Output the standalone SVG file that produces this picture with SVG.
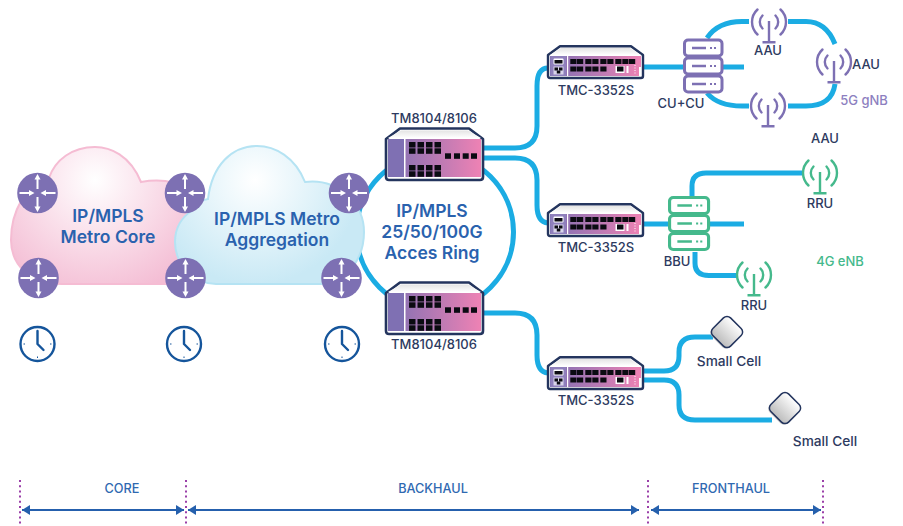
<svg xmlns="http://www.w3.org/2000/svg" xmlns:xlink="http://www.w3.org/1999/xlink" width="903" height="526" viewBox="0 0 903 526">
<style>
text{font-family:"Inter","Noto Sans","Liberation Sans",sans-serif;text-anchor:middle}
.h{font-size:17.500px;font-weight:600;fill:#2a62ae}
.l{font-size:13px;font-weight:500;fill:#2d3a60}
.s{font-size:13.700px}
.z{font-size:12.700px;font-weight:500;fill:#2f69b1}
.w{fill:none;stroke:#1bace3;stroke-width:5}
.p{color:#7d70b3}.g{color:#45b98c}
.dot{stroke:#9a3fa8;stroke-width:2;stroke-dasharray:2 3.2}
.arr{stroke:#2560ad;stroke-width:2;marker-start:url(#ah);marker-end:url(#ah)}
.k{fill:#0b0b12}
</style>
<defs>
<marker id="ah" viewBox="0 0 8 10" refX="8" refY="5" markerWidth="8" markerHeight="10" markerUnits="userSpaceOnUse" orient="auto-start-reverse"><path d="M0,0L8,5L0,10Z" fill="#2560ad"/></marker>
<radialGradient id="gp" gradientUnits="userSpaceOnUse" cx="95" cy="180" r="120"><stop offset="0" stop-color="#fff"/><stop offset="1" stop-color="#f4bdd4"/></radialGradient>
<radialGradient id="gb" gradientUnits="userSpaceOnUse" cx="255" cy="180" r="105"><stop offset="0" stop-color="#fff"/><stop offset="1" stop-color="#c9e9f5"/></radialGradient>
<linearGradient id="gf"><stop offset="0" stop-color="#7f70b3"/><stop offset="1" stop-color="#ee82b4"/></linearGradient>
<linearGradient id="gt" x1="0" y1="0" x2="0" y2="1"><stop offset="0" stop-color="#e4e4e4"/><stop offset="1" stop-color="#fff"/></linearGradient>
<linearGradient id="gc" x1="0" y1="0" x2="0" y2="1"><stop offset="0" stop-color="#fff"/><stop offset="1" stop-color="#bdbdbd"/></linearGradient>
<g id="router">
<circle r="20.300" fill="#7d70b3"/>
<path d="M0,-4V-15M0,4V15M-18,0H-7M18,0H7" stroke="#fff" stroke-width="2"/>
<path d="M0,-19L-3,-13.500H3ZM0,19L-3,13.500H3ZM-3,0L-8.500,-3V3ZM3,0L8.500,-3V3Z" fill="#fff"/>
</g>
<g id="clock" fill="none" stroke="#15559b">
<circle r="17" stroke-width="2.400"/>
<path d="M0,-14V-12.500M0,14V12.500M-14,0H-12.500M14,0H12.500" stroke-width="1"/>
<path d="M0,-13V0L6,6" stroke-width="2.400" stroke-linecap="round" stroke-linejoin="round"/>
</g>
<g id="bigsw">
<path d="M1,12L15,1.500H84L98,12V50Q98,53 95,53H4Q1,53 1,50Z" fill="#fff" stroke="#24355e" stroke-width="2.600" stroke-linejoin="round"/>
<path d="M3,11L16,3.500H83L96,11Z" fill="url(#gt)"/>
<rect x="3" y="12" width="93" height="38" fill="url(#gf)"/>
<rect x="3" y="12" width="16" height="38" fill="#7f70b3"/>
<rect x="19" y="12" width="1.500" height="38" fill="#fff"/>
<g class="k">
<rect x="24" y="15" width="6.500" height="5.500"/><rect x="32.500" y="15" width="6.500" height="5.500"/><rect x="41" y="15" width="6.500" height="5.500"/><rect x="49.500" y="15" width="6.500" height="5.500"/>
<rect x="24" y="21.300" width="6.500" height="5.500"/><rect x="32.500" y="21.300" width="6.500" height="5.500"/><rect x="41" y="21.300" width="6.500" height="5.500"/><rect x="49.500" y="21.300" width="6.500" height="5.500"/>
<rect x="24" y="38" width="6.500" height="5.500"/><rect x="32.500" y="38" width="6.500" height="5.500"/><rect x="41" y="38" width="6.500" height="5.500"/><rect x="49.500" y="38" width="6.500" height="5.500"/>
<rect x="24" y="44.300" width="6.500" height="5.500"/><rect x="32.500" y="44.300" width="6.500" height="5.500"/><rect x="41" y="44.300" width="6.500" height="5.500"/><rect x="49.500" y="44.300" width="6.500" height="5.500"/>
<rect x="60" y="26.300" width="6" height="5.500"/><rect x="69" y="26.300" width="6" height="5.500"/><rect x="77.700" y="26.300" width="6" height="5.500"/><rect x="86" y="26.300" width="6" height="5.500"/>
</g>
</g>
<g id="smsw">
<path d="M1,10L13,1.200H84L96,10V31Q96,33 94,33H3Q1,33 1,31Z" fill="#fff" stroke="#24355e" stroke-width="2.400" stroke-linejoin="round"/>
<path d="M3,10L14,3H83L94,10Z" fill="url(#gt)"/>
<rect x="3" y="11" width="91" height="20" fill="url(#gf)"/>
<rect x="3.500" y="11" width="15.500" height="20" fill="#8f80bc"/>
<rect x="20" y="11" width="1.200" height="20" fill="#fff"/>
<rect x="6.500" y="13.500" width="10" height="6" rx="1" fill="#fff"/><rect x="7.500" y="15" width="8" height="3.500" class="k"/>
<rect x="6.500" y="21.500" width="10" height="8" fill="#d9d4ea"/><rect x="7.500" y="22.500" width="3.500" height="3" class="k"/><rect x="12" y="22.500" width="3.500" height="3" class="k"/><rect x="9.800" y="25.500" width="3.500" height="3" class="k"/>
<g class="k">
<rect x="23.300" y="14" width="6.200" height="5"/><rect x="30" y="14" width="6.200" height="5"/><rect x="38.300" y="14" width="6.200" height="5"/><rect x="45.300" y="14" width="6.200" height="5"/><rect x="53.300" y="14" width="6.200" height="5"/><rect x="60.300" y="14" width="6.200" height="5"/><rect x="68.300" y="14" width="6.200" height="5"/><rect x="75.300" y="14" width="6.200" height="5"/><rect x="82" y="14" width="6.200" height="5"/>
<rect x="23.300" y="21.500" width="6.200" height="5"/><rect x="30" y="21.500" width="6.200" height="5"/><rect x="38.300" y="21.500" width="6.200" height="5"/><rect x="45.300" y="21.500" width="6.200" height="5"/><rect x="53.300" y="21.500" width="6.200" height="5"/>
</g>
<rect x="68.500" y="21" width="9" height="7" fill="#fff"/><rect x="70" y="21.500" width="6.500" height="5" class="k"/>
<rect x="79.500" y="21" width="2" height="7" fill="#fff"/>
<path d="M88,20V29" stroke="#fff" stroke-width="1" stroke-dasharray="1 1.500"/>
<rect x="92" y="22" width="2" height="9" fill="#fff"/>
</g>
<g id="ant" fill="none" stroke="currentColor" stroke-width="2.400" stroke-linecap="round">
<path d="M-6.500,-6.500A9.200,9.200 0 0 0 -6.500,6.500M6.500,-6.500A9.200,9.200 0 0 1 6.500,6.500"/>
<path d="M-11.500,-12.500A17,17 0 0 0 -11.500,12.500M11.500,-12.500A17,17 0 0 1 11.500,12.500"/>
<path d="M0,-1V20M-6.500,20.300H6.500" stroke-linecap="butt"/>
</g>
<g id="srv">
<g fill="#fff" stroke="currentColor" stroke-width="3">
<rect x="1.500" y="1.500" width="37.500" height="16" rx="3.500"/>
<rect x="1.500" y="19.500" width="37.500" height="16" rx="3.500"/>
<rect x="1.500" y="37.500" width="37.500" height="16" rx="3.500"/>
</g>
<g stroke="currentColor">
<path d="M9,9.500H23M9,27.500H23M9,45.500H23" stroke-width="2.400"/>
<path d="M27,9.500h2M31,9.500h2M27,27.500h2M31,27.500h2M27,45.500h2M31,45.500h2" stroke-width="2"/>
</g>
</g>
<g id="cell">
<rect x="-12.500" y="-11" width="25" height="25" rx="5" transform="rotate(45)" fill="#b9b9b9" opacity=".8"/>
<rect x="-12.500" y="-12.500" width="25" height="25" rx="5" transform="rotate(45)" fill="url(#gc)" stroke="#24355e" stroke-width="1.500"/>
</g>
</defs>

<g id="connectors">
<circle class="w" cx="435" cy="232" r="78.500"/>
<path class="w" d="M484,148H515Q537,148 537,126V86Q537,68 548,68"/>
<path class="w" d="M484,158H515Q537,158 537,180V205Q537,222 548,223"/>
<path class="w" d="M484,313H515Q537,313 537,335V355Q537,372 548,373"/>
<path class="w" d="M643,67H744"/>
<path class="w" d="M707,38Q718,21.500 742,21.500H749M788,21.500H806Q826,21.500 835,44"/>
<path class="w" d="M707,93Q718,106 742,106H749M788,106H806Q832,106 835,84"/>
<path class="w" d="M643,224H744"/>
<path class="w" d="M692,197V186Q692,173 706,173H802"/>
<path class="w" d="M695,252V263Q695,275.500 709,275.500H737"/>
<path class="w" d="M643,371H664Q679,371 679,356V352Q679,337 695,337H713"/>
<path class="w" d="M643,380H664Q679,380 679,395V405Q679,420 695,420H772"/>
</g>

<g id="cloud-core">
<path d="M62,284H180L200,284L210,220C205,195 180,175 141,182C130,155 110,147 95,147C72,147 55,160 49,178C25,185 11,212 11,240C11,265 30,284 62,284Z" fill="url(#gp)" stroke="#f5bcd3" stroke-width="2"/>
<text class="h" x="108" y="222">IP/MPLS</text><text class="h" x="108" y="243">Metro Core</text>
</g>
<g id="cloud-aggregation">
<path d="M216,284H320C345,284 364,260 364,232C364,205 340,178 305,182C295,157 275,146 257,146C232,146 212,165 208,199C200,200 196,205 193,210C180,218 175,230 175,242C175,265 195,284 216,284Z" fill="url(#gb)" stroke="#b5e3f3" stroke-width="2"/>
<text class="h" x="277" y="225">IP/MPLS Metro</text><text class="h" x="277" y="246">Aggregation</text>
</g>

<g id="r1"><use xlink:href="#router" x="37.500" y="193"/></g>
<g id="r2"><use xlink:href="#router" x="185" y="193"/></g>
<g id="r3"><use xlink:href="#router" x="349" y="193"/></g>
<g id="r4"><use xlink:href="#router" x="38.500" y="278"/></g>
<g id="r5"><use xlink:href="#router" x="185.500" y="278"/></g>
<g id="r6"><use xlink:href="#router" x="341.500" y="278"/></g>

<g id="clock1"><use xlink:href="#clock" x="37.500" y="344"/></g>
<g id="clock2"><use xlink:href="#clock" x="184" y="344"/></g>
<g id="clock3"><use xlink:href="#clock" x="342" y="344"/></g>

<g id="ring-label"><text class="h" x="432" y="217">IP/MPLS</text><text class="h" x="432" y="238">25/50/100G</text><text class="h" x="432" y="259">Acces Ring</text></g>

<g id="tm-top"><use xlink:href="#bigsw" x="385" y="127"/><text class="l" x="434" y="123">TM8104/8106</text></g>
<g id="tm-bottom"><use xlink:href="#bigsw" x="385" y="281"/><text class="l" x="434" y="349">TM8104/8106</text></g>
<g id="tmc1"><use xlink:href="#smsw" x="547" y="45"/><text class="l" x="596" y="95">TMC-3352S</text></g>
<g id="tmc2"><use xlink:href="#smsw" x="547" y="203"/><text class="l" x="596" y="252">TMC-3352S</text></g>
<g id="tmc3"><use xlink:href="#smsw" x="547" y="356"/><text class="l" x="596" y="405">TMC-3352S</text></g>

<g id="cu" class="p"><use xlink:href="#srv" x="683" y="38.500"/><text class="l" x="681" y="108">CU+CU</text></g>
<g id="aau1" class="p"><use xlink:href="#ant" x="769" y="22"/><text class="l" x="768" y="55">AAU</text></g>
<g id="aau2" class="p"><use xlink:href="#ant" x="834" y="62"/><text class="l" x="866" y="69">AAU</text></g>
<g id="aau3" class="p"><use xlink:href="#ant" x="768" y="106"/></g>
<text class="l" x="825" y="143">AAU</text>
<text x="864" y="105" style="font-size:13px;font-weight:500;fill:#8d7fc0">5G gNB</text>

<g id="bbu" class="g"><use xlink:href="#srv" x="668" y="196" transform="translate(668 196) scale(1.040 1) translate(-668 -196)"/><text class="l" x="677" y="266">BBU</text></g>
<g id="rru1" class="g"><use xlink:href="#ant" x="820" y="173"/><text class="l" x="820" y="208">RRU</text></g>
<g id="rru2" class="g"><use xlink:href="#ant" x="754" y="275"/><text class="l" x="754" y="310">RRU</text></g>
<text x="840" y="266" style="font-size:13px;font-weight:500;fill:#45b98c">4G eNB</text>

<g id="cell1"><use xlink:href="#cell" x="727" y="332"/><text class="l s" x="729" y="366">Small Cell</text></g>
<g id="cell2"><use xlink:href="#cell" x="785" y="408"/><text class="l s" x="825" y="446">Small Cell</text></g>

<g id="zones">
<path class="dot" d="M20,480V526M186,480V526M648,480V526M823,480V526"/>
<path class="arr" d="M22,510H184"/>
<path class="arr" d="M188,510H639"/>
<path class="arr" d="M651,510H821"/>
<text class="z" x="122" y="492.500">CORE</text>
<text class="z" x="433" y="492.500">BACKHAUL</text>
<text class="z" x="731" y="492.500">FRONTHAUL</text>
</g>
</svg>
